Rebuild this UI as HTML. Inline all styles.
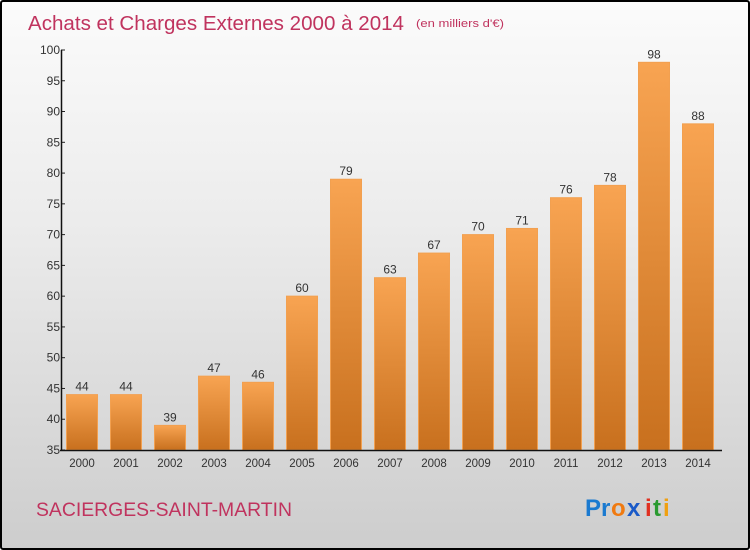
<!DOCTYPE html>
<html><head><meta charset="utf-8"><style>
body{margin:0}
#c{position:relative;width:750px;height:550px;box-sizing:border-box;border:2px solid #000;border-radius:3px;background:linear-gradient(#fbfbfb,#ececec 40%,#cdcdcd);font-family:"Liberation Sans",sans-serif;overflow:hidden}
</style></head><body>
<div id="c">
<svg id="s" width="746" height="546" style="position:absolute;left:0;top:0">
<defs><linearGradient id="g" x1="0" y1="0" x2="0" y2="1"><stop offset="0" stop-color="#f8a452"/><stop offset="1" stop-color="#c8701e"/></linearGradient></defs>
<text x="26" y="28" font-size="20" fill="#c0335e" textLength="376" lengthAdjust="spacingAndGlyphs">Achats et Charges Externes 2000 à 2014</text>
<text x="414" y="25" font-size="11" fill="#c0335e" textLength="88" lengthAdjust="spacingAndGlyphs">(en milliers d'€)</text>
<text x="34" y="514" font-size="19" fill="#c0335e" textLength="256" lengthAdjust="spacingAndGlyphs">SACIERGES-SAINT-MARTIN</text>
<g font-size="24" font-weight="bold">
<text x="583" y="514" fill="#1a7ad0">P</text><text x="599" y="514" fill="#1a7ad0">r</text><text x="609" y="514" fill="#f07a10">o</text><text x="625" y="514" fill="#1a5ac8">x</text><text x="643" y="514" fill="#e03020">i</text><text x="651" y="514" fill="#2a9a30">t</text><text x="661" y="514" fill="#f0a010">i</text></g>
<g id="plot"></g>
</svg>
</div>
<script>
const categories=["2000","2001","2002","2003","2004","2005","2006","2007","2008","2009","2010","2011","2012","2013","2014"];
const values=[44,44,39,47,46,60,79,63,67,70,71,76,78,98,88];
const yTicks=[35,40,45,50,55,60,65,70,75,80,85,90,95,100];
const NS="http://www.w3.org/2000/svg";
const p=document.getElementById('plot');
const y=v=>448-(v-35)*(400/65);
const x=i=>80+i*44;
function mk(t,a,txt){const e=document.createElementNS(NS,t);for(const k in a)e.setAttribute(k,a[k]);if(txt!=null)e.textContent=txt;p.appendChild(e);return e;}
values.forEach((v,i)=>{
 const r=mk('rect',{x:x(i)-15.5,y:y(v),width:31,height:448-y(v),fill:'url(#g)',stroke:'#f2a050','stroke-width':1});
 
 
 const t=mk('text',{x:x(i),y:y(v)-4,'font-size':12,fill:'#333','text-anchor':'middle'},String(v));
 
 
 const c=mk('text',{x:x(i),y:465,'font-size':11.5,fill:'#333','text-anchor':'middle'},categories[i]);
 
 
});
yTicks.forEach(v=>{
 const l=mk('line',{x1:59,x2:63,y1:y(v),y2:y(v),stroke:'#222'});
 
 
 const t=mk('text',{x:58,y:y(v)+4,'font-size':12,fill:'#333','text-anchor':'end'},String(v));
 
 
});
const ya=mk('line',{x1:59.5,x2:59.5,y1:y(100),y2:449,stroke:'#111','stroke-width':1.5});


const xa=mk('line',{x1:58,x2:720,y1:448.5,y2:448.5,stroke:'#111','stroke-width':1.5});


</script>
</body></html>
